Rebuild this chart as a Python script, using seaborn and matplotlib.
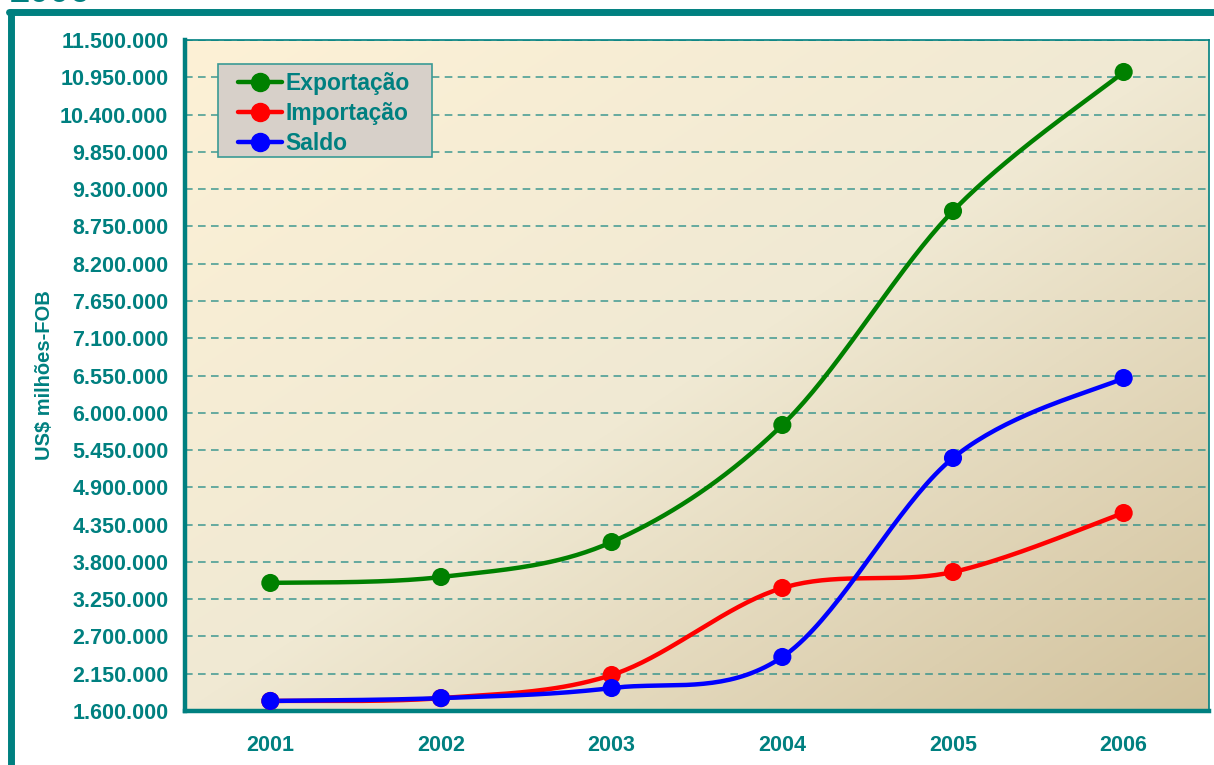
import numpy as np
import pandas as pd
import matplotlib.pyplot as plt
import seaborn as sns
from matplotlib.lines import Line2D
from matplotlib.patches import Rectangle
from matplotlib.ticker import FuncFormatter, FixedLocator

anos = ['2001', '2002', '2003', '2004', '2005', '2006']
exportacao = [3489000, 3577000, 4093000, 5820000, 8977000, 11028000]
importacao = [1748000, 1790000, 2131000, 3415000, 3651000, 4521000]
saldo = [1748000, 1790000, 1939000, 2397000, 5333000, 6513000]

TEAL = '#008080'

sns.set_style('white')
plt.rcParams['font.family'] = ['Liberation Sans', 'DejaVu Sans']
plt.rcParams['font.weight'] = 'bold'


def suavizar(y, n=40):
    # curva suave estilo Excel (Catmull-Rom)
    y = np.asarray(y, dtype=float)
    x = np.arange(len(y), dtype=float)
    px = np.concatenate([[x[0]], x, [x[-1]]])
    py = np.concatenate([[y[0]], y, [y[-1]]])
    xs, ys = [], []
    for i in range(1, len(px) - 2):
        p0, p1, p2, p3 = (np.array([px[j], py[j]]) for j in (i - 1, i, i + 1, i + 2))
        c1 = p1 + (p2 - p0) / 6
        c2 = p2 - (p3 - p1) / 6
        t = np.linspace(0, 1, n)[:, None]
        b = (1 - t) ** 3 * p1 + 3 * (1 - t) ** 2 * t * c1 + 3 * (1 - t) * t ** 2 * c2 + t ** 3 * p2
        xs.extend(b[:, 0]); ys.extend(b[:, 1])
    return np.array(xs), np.array(ys)


fig = plt.figure(figsize=(12.14, 7.65), dpi=100)
ax = fig.add_axes([185 / 1214, 54 / 765, 1024 / 1214, 671 / 765])

# moldura externa
fig.add_artist(Line2D([11 / 1214, 11 / 1214], [0, 1 - 12 / 765], color=TEAL, lw=5, transform=fig.transFigure))
fig.add_artist(Line2D([8.5 / 1214, 1], [1 - 12 / 765, 1 - 12 / 765], color=TEAL, lw=5, transform=fig.transFigure))
fig.text(10 / 1214, 1 - 2 / 765, '2006', color=TEAL, fontsize=26, fontweight='bold', va='baseline', ha='left')

# fundo em degradê
g = np.linspace(0, 1, 300)
gx, gy = np.meshgrid(g, g)
d = (gx + gy) / 2
c0 = np.array([253, 241, 214]) / 255
c1 = np.array([240, 233, 211]) / 255
c2 = np.array([210, 194, 157]) / 255
img = np.where(d[..., None] < 0.5,
               c0 + (c1 - c0) * (d[..., None] / 0.5),
               c1 + (c2 - c1) * ((d[..., None] - 0.5) / 0.5))
ax.imshow(img, extent=[0, 1, 0, 1], transform=ax.transAxes, aspect='auto', zorder=0, origin='upper')

series = [('Exportação', exportacao, '#008000'),
          ('Importação', importacao, '#ff0000'),
          ('Saldo', saldo, '#0000ff')]

x = np.arange(len(anos))
for nome, vals, cor in series:
    xs, ys = suavizar(vals)
    sns.lineplot(x=xs, y=ys, color=cor, lw=3.2, ax=ax, sort=False, zorder=3)
    sns.scatterplot(x=x, y=vals, color=cor, s=170, edgecolor='none', ax=ax, zorder=4)

ax.set_xlim(-0.5, 5.5)
ax.set_ylim(1600000, 11500000)
yt = np.arange(1600000, 11500001, 550000)
ax.set_yticks(yt)
ax.yaxis.set_major_formatter(FuncFormatter(lambda v, p: f'{int(round(v)):,}'.replace(',', '.')))
ax.grid(axis='y', color='#1f8a85', ls=(0, (5, 3.5)), lw=1.1, alpha=0.85, zorder=1)
ax.grid(axis='x', visible=False)

ax.set_xticks(x)
ax.set_xticklabels(anos)
ax.xaxis.set_minor_locator(FixedLocator(np.arange(-0.5, 6, 1)))
ax.tick_params(axis='x', which='major', direction='in', length=5, width=2.5, color=TEAL,
               labelcolor=TEAL, labelsize=15.5, pad=17)
ax.tick_params(axis='x', which='minor', direction='out', length=7, width=2.5, color=TEAL)
ax.tick_params(axis='y', which='major', direction='out', length=6, width=2.5, color=TEAL,
               labelcolor=TEAL, labelsize=15.5, pad=6)
for lab in ax.get_xticklabels() + ax.get_yticklabels():
    lab.set_fontweight('bold')

for s in ['left', 'bottom']:
    ax.spines[s].set_color(TEAL)
    ax.spines[s].set_linewidth(3.2)
for s in ['top', 'right']:
    ax.spines[s].set_color(TEAL)
    ax.spines[s].set_linewidth(1.2)

ax.set_ylabel('US$ milhões-FOB', color=TEAL, fontsize=14.5, fontweight='bold')
ax.yaxis.set_label_coords(-0.128, 0.5)
ax.set_xlabel('')

# caixa da legenda
ax.add_patch(Rectangle((33 / 1024, 554 / 671), 214 / 1024, 93 / 671, transform=ax.transAxes,
                       facecolor='#d7d0c9', edgecolor='#3a9a95', lw=1.2, zorder=5))
handles = [Line2D([], [], color=cor, lw=3.2, marker='o', markersize=13) for _, _, cor in series]
leg = ax.legend(handles, [n for n, _, _ in series], loc='upper left',
                bbox_to_anchor=(53 / 1024, 0.9525), frameon=False,
                prop={'size': 16.5, 'weight': 'bold'}, handlelength=1.92,
                handletextpad=0.15, labelspacing=0.3, borderpad=0, borderaxespad=0)
leg.set_zorder(6)
for t in leg.get_texts():
    t.set_color(TEAL)

fig.savefig('out.png', dpi=100)
